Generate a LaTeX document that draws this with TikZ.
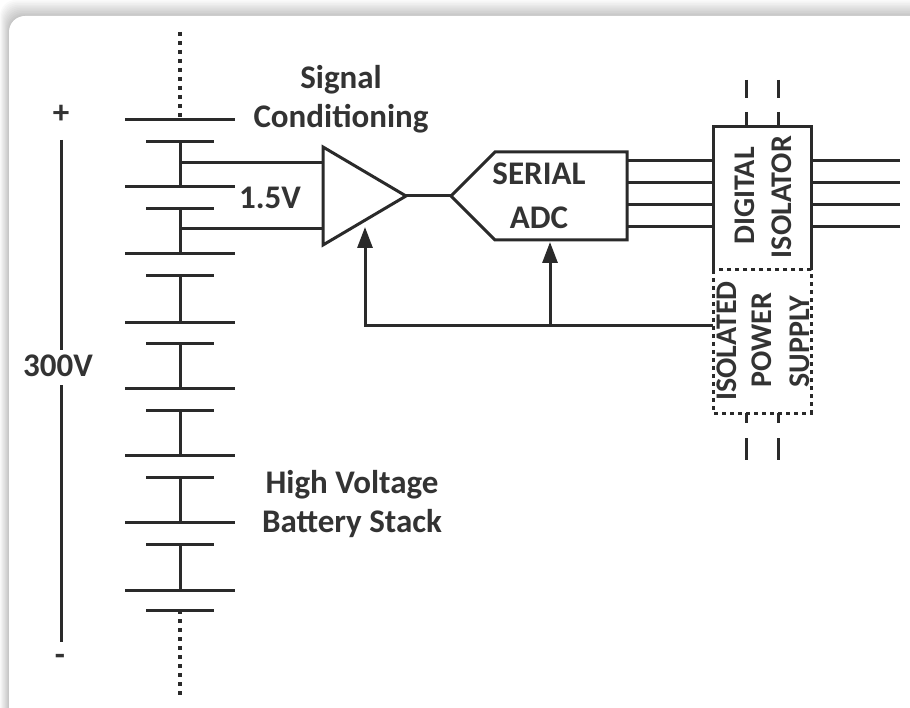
\documentclass[tikz,border=0pt]{standalone}
\usepackage{fontspec}
\setmainfont{Carlito}
\usetikzlibrary{arrows.meta}
\definecolor{WireGray}{HTML}{2A2A2A}
\definecolor{TextGray}{HTML}{333333}
\begin{document}
\begin{tikzpicture}[x=1pt,y=-1pt,>={Triangle[length=21pt,width=15pt]}]
  \tikzstyle{wire}=[draw=WireGray,line width=3pt]
  \tikzstyle{dotline}=[draw=WireGray,line width=3.6pt,dash pattern=on 4pt off 5pt]
  \tikzstyle{dotbox}=[draw=WireGray,line width=3pt,dash pattern=on 4pt off 4pt]
  \tikzstyle{stacklabel}=[text=TextGray,font=\fontsize{33}{39}\selectfont\bfseries,inner sep=0pt,align=center]
  \tikzstyle{sidelabel}=[text=TextGray,font=\fontsize{30}{36}\selectfont\bfseries,inner sep=0pt,rotate=90]
  \useasboundingbox (0,0) rectangle (910,708);
  % frame
  \fill[white] (0,0) rectangle (910,708);
  \foreach \i in {10,9,...,0}{
    \pgfmathsetmacro{\shade}{24-2.2*\i}
    \fill[black!\shade!white,rounded corners=16pt]
      (9-\i*0.9,16-\i*1.6) rectangle (930,730);
  }
  \fill[white,rounded corners=16pt] (9,16) rectangle (930,730);
  % battery stack
  \foreach \y in {120,187,254,323,388,455,522,590}
    \draw[wire] (125,\y) -- (235,\y);
  \foreach \y in {142,209,276,344,410,477,544,610}
    \draw[wire] (146,\y) -- (214,\y);
  \foreach \a/\b in {142/187,209/254,276/323,344/388,410/455,477/522,544/590}
    \draw[wire] (180,\a) -- (180,\b);
  \coordinate (stacktop) at (180,32);
  \coordinate (stackbot) at (180,696);
  \draw[dotline] (stacktop) -- (180,120);
  \draw[dotline] (180,610) -- (stackbot);
  \node[stacklabel] (plus) at (61,114) {+};
  \node[stacklabel] (total) at (58,366) {300V};
  \node[stacklabel] (minus) at (60,660) {-};
  \draw[wire] (61,140) -- (61,350);
  \draw[wire] (61,385) -- (61,642);
  \node[stacklabel] (cond) at (341,99) {Signal\\Conditioning};
  \node[stacklabel] (cell) at (270,198) {1.5V};
  \node[stacklabel] (stack) at (352,504) {High Voltage\\Battery Stack};
  % amplifier
  \coordinate (ampa) at (323,147);
  \coordinate (ampb) at (323,245);
  \coordinate (ampc) at (406,196);
  \draw[wire,line join=miter] (ampa) -- (ampc) -- (ampb) -- cycle;
  \draw[wire] (180,163) -- (323,163);
  \draw[wire] (180,229) -- (323,229);
  % adc
  \coordinate (adctip) at (451,196);
  \draw[wire] (adctip) -- (495,152) -- (627,152) -- (627,240) -- (495,240) -- cycle;
  \draw[wire] (ampc) -- (adctip);
  \node[stacklabel] (serial) at (539,174) {SERIAL};
  \node[stacklabel] (adc) at (539,218) {ADC};
  % isolator
  \draw[dotbox] (713,270) -- (713,413) -- (811,413) -- (811,270) -- cycle;
  \draw[wire] (713,270) -- (713,127) -- (811,127) -- (811,270);
  \node[sidelabel] (digital) at (745,196) {DIGITAL};
  \node[sidelabel] (isolator) at (782,197) {ISOLATOR};
  \node[sidelabel] (isolated) at (727,341) {ISOLATED};
  \node[sidelabel] (power) at (762,340) {POWER};
  \node[sidelabel] (supply) at (800,342) {SUPPLY};
  \foreach \y in {161,183,205,227}{
    \draw[wire] (627,\y) -- (713,\y);
    \draw[wire] (811,\y) -- (900,\y);
  }
  \foreach \x in {746,778}{
    \draw[wire] (\x,80) -- (\x,98);
    \draw[wire] (\x,112) -- (\x,127);
    \draw[wire] (\x,413) -- (\x,423);
    \draw[wire] (\x,438) -- (\x,460);
  }
  % feedback
  \draw[wire,->] (713,326) -- (365,326) -- (365,227);
  \draw[wire,->] (550,326) -- (550,242);
\end{tikzpicture}
\end{document}
